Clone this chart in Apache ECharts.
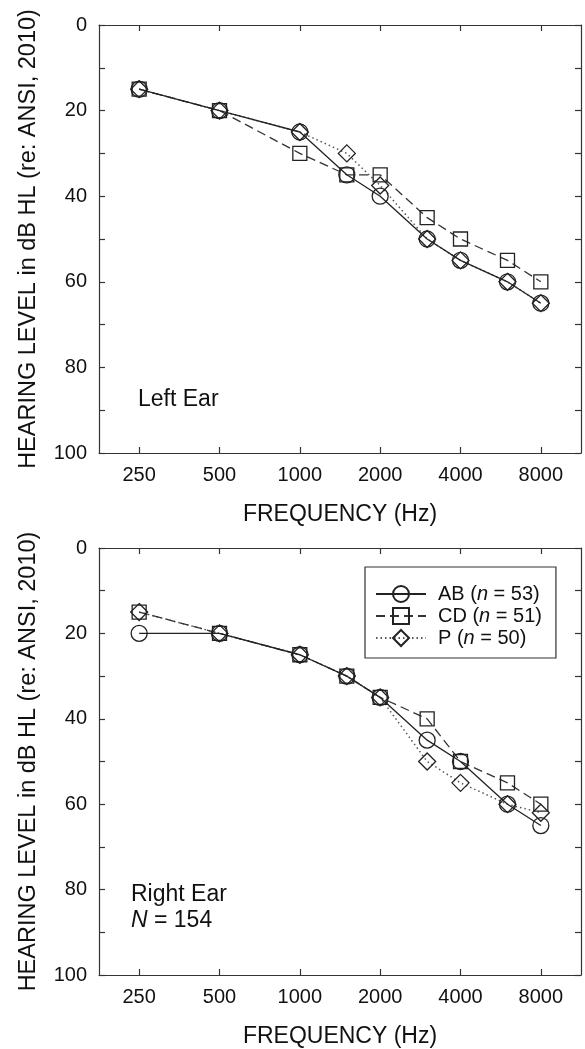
<!DOCTYPE html>
<html>
<head>
<meta charset="utf-8">
<script src="https://cdn.jsdelivr.net/npm/echarts@6/dist/echarts.min.js"></script>
<style>
html,body{margin:0;padding:0;background:#fff;}
#chart{width:585px;height:1049px;}
</style>
</head>
<body>
<div id="chart"></div>
<script>
// ---- data ----
const freqs = [250, 500, 1000, 1500, 2000, 3000, 4000, 6000, 8000];
const xTickLabels = [250, 500, 1000, 2000, 4000, 8000];
const yTickLabels = [0, 20, 40, 60, 80, 100];
const groups = ['AB', 'CD', 'P'];
const groupN = [53, 51, 50];
const leftAB  = [15, 20, 25, 35, 40, 50, 55, 60, 65];
const leftCD  = [15, 20, 30, 35, 35, 45, 50, 55, 60];
const leftP   = [15, 20, 25, 30, 37.5, 50, 55, 60, 65];
const rightAB = [20, 20, 25, 30, 35, 45, 50, 60, 65];
const rightCD = [15, 20, 25, 30, 35, 40, 50, 55, 60];
const rightP  = [15, 20, 25, 30, 35, 50, 55, 60, 62];

const FONT = "'Liberation Sans', Arial, Helvetica, sans-serif";
const AXC = '#333';
const TXT = '#111';

const minF = 250 / Math.SQRT2, maxF = 8000 * Math.SQRT2;

function xAxis(gridIndex, pos) {
  const bottom = pos === 'bottom';
  return {
    type: 'log', logBase: 2, gridIndex, position: pos, min: minF, max: maxF,
    axisLine: {show: true, onZero: false, lineStyle: {color: AXC, width: 1.2}},
    axisTick: {show: true, inside: true, length: 6, customValues: xTickLabels, lineStyle: {color: AXC, width: 1.2}},
    axisLabel: {show: bottom, customValues: xTickLabels, formatter: v => String(Math.round(v)),
      fontSize: 20, color: TXT, fontFamily: FONT, margin: 12},
    splitLine: {show: false}, minorTick: {show: false},
    name: bottom ? 'FREQUENCY (Hz)' : '', nameLocation: 'middle', nameGap: 50,
    nameTextStyle: {fontSize: 23, color: TXT, fontFamily: FONT}
  };
}
function yAxis(gridIndex, pos) {
  const left = pos === 'left';
  return {
    type: 'value', gridIndex, position: pos, inverse: true, min: 0, max: 100, interval: 10,
    axisLine: {show: true, onZero: false, lineStyle: {color: AXC, width: 1.2}},
    axisTick: {show: true, inside: true, length: 6, lineStyle: {color: AXC, width: 1.2}},
    axisLabel: {show: left, customValues: yTickLabels, fontSize: 20, color: TXT, fontFamily: FONT, margin: 12},
    splitLine: {show: false},
    name: left ? 'HEARING LEVEL in dB HL (re: ANSI, 2010)' : '', nameLocation: 'middle', nameRotate: 90, nameGap: 58,
    nameTextStyle: {fontSize: 23.5, color: TXT, fontFamily: FONT}
  };
}

const styles = {
  AB: {symbol: 'circle', symbolSize: 16, line: {type: 'solid', color: '#222', width: 1.3}},
  CD: {symbol: 'rect', symbolSize: 14, line: {type: [9, 5], color: '#333', width: 1.3}},
  P:  {symbol: 'diamond', symbolSize: 17, line: {type: [1.5, 3], color: '#555', width: 1.5}}
};

function mkSeries(name, vals, gi) {
  const s = styles[name];
  return {
    name, type: 'line', xAxisIndex: gi * 2, yAxisIndex: gi * 2,
    data: freqs.map((f, i) => [f, vals[i]]),
    symbol: s.symbol, symbolSize: s.symbolSize, showAllSymbol: true,
    lineStyle: {type: s.line.type, color: s.line.color, width: s.line.width},
    itemStyle: {color: 'rgba(255,255,255,0)', borderColor: '#222', borderWidth: 1.3},
    emphasis: {disabled: true}, clip: false, z: 3
  };
}

const chart = echarts.init(document.getElementById('chart'), null, {renderer: 'canvas'});
chart.setOption({
  animation: false,
  backgroundColor: '#fff',
  grid: [
    {left: 99, top: 25, width: 482, height: 428},
    {left: 99, top: 548, width: 482, height: 428}
  ],
  xAxis: [xAxis(0, 'bottom'), xAxis(0, 'top'), xAxis(1, 'bottom'), xAxis(1, 'top')],
  yAxis: [yAxis(0, 'left'), yAxis(0, 'right'), yAxis(1, 'left'), yAxis(1, 'right')],
  legend: {
    data: groups, orient: 'vertical', left: 365, top: 567,
    padding: [17, 14, 10, 10], itemWidth: 50, itemHeight: 20, itemGap: 2,
    borderColor: '#333', borderWidth: 1.2, borderRadius: 0,
    selectedMode: false,
    formatter: name => name + ' ({i|n} = ' + groupN[groups.indexOf(name)] + ')',
    textStyle: {fontSize: 20, fontFamily: FONT, color: TXT, padding: [0, 0, 0, 7],
      rich: {i: {fontStyle: 'italic', fontSize: 20, fontFamily: FONT, color: TXT}}}
  },
  graphic: [
    {type: 'text', left: 138, top: 388, style: {text: 'Left Ear', fontSize: 23, fontFamily: FONT, fill: TXT}},
    {type: 'text', left: 131, top: 883, style: {text: 'Right Ear', fontSize: 23, fontFamily: FONT, fill: TXT}},
    {type: 'text', left: 131, top: 909, style: {text: '{i|N} = 154', fontSize: 23, fontFamily: FONT, fill: TXT,
      rich: {i: {fontStyle: 'italic', fontSize: 23, fontFamily: FONT, fill: TXT}}}}
  ],
  series: [
    mkSeries('P', leftP, 0), mkSeries('CD', leftCD, 0), mkSeries('AB', leftAB, 0),
    mkSeries('P', rightP, 1), mkSeries('CD', rightCD, 1), mkSeries('AB', rightAB, 1)
  ]
});
</script>
</body>
</html>
